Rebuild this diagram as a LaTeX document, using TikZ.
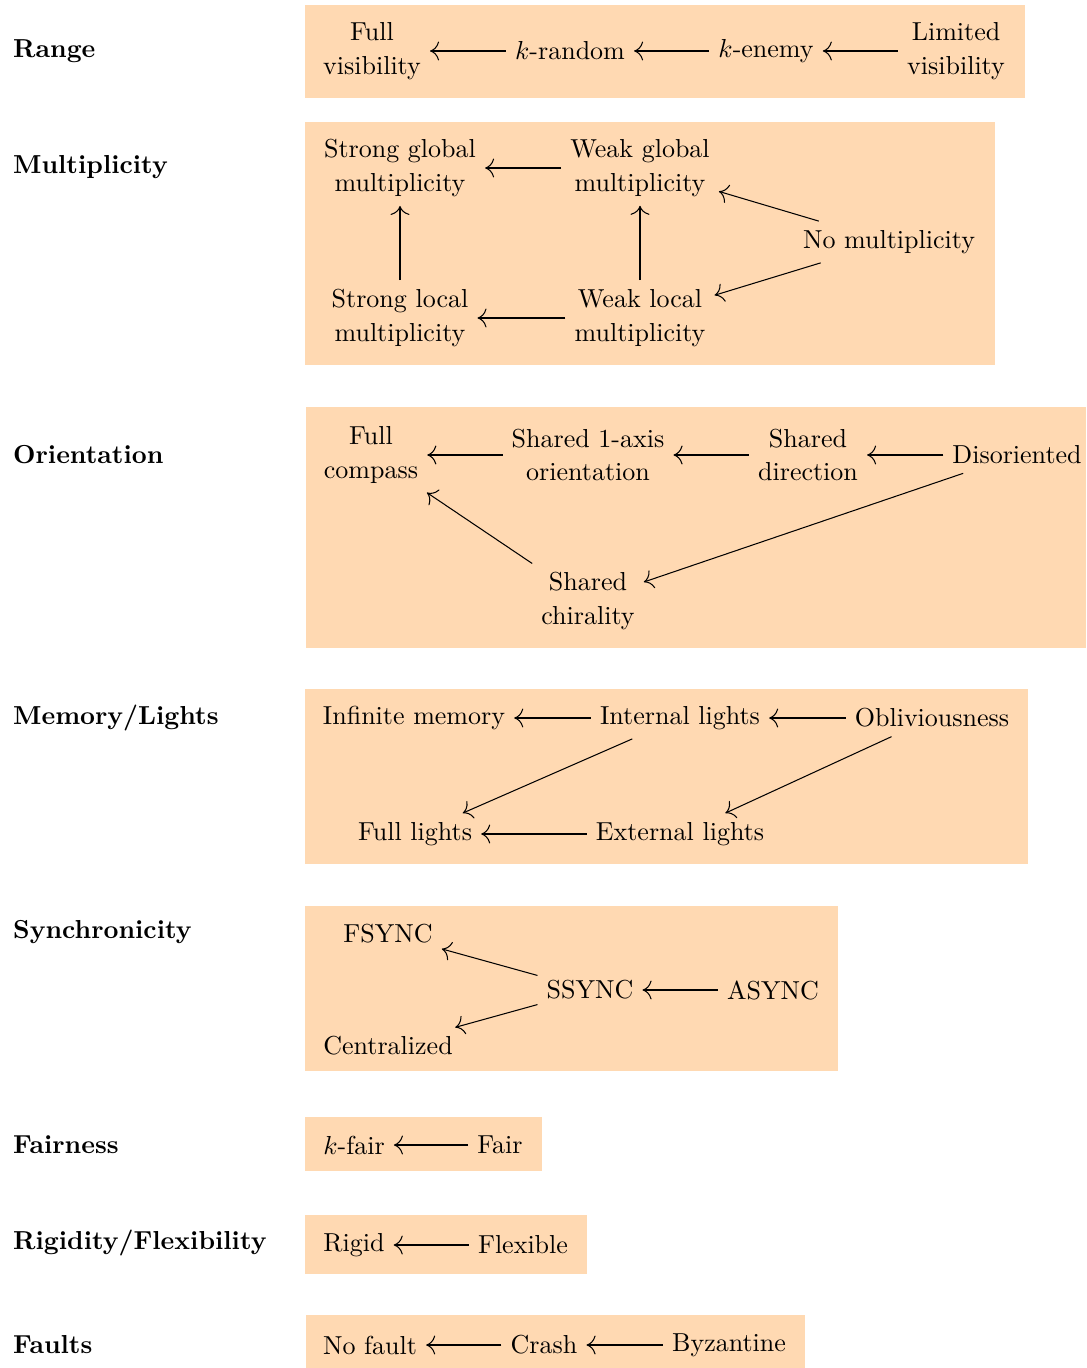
\documentclass[tikz,border=0pt]{standalone}
\usetikzlibrary{arrows.meta}

\begin{document}
\begin{tikzpicture}[x=0.3846pt,y=-0.3846pt,>={To[scale=1.4]},auto]
\tikzset{prop/.style = {align=center, font=\fontsize{10}{13}\selectfont}, cat/.style = {anchor=west,font=\bfseries}, panel/.style = {fill=orange!30}}
\useasboundingbox (0,0) rectangle (1086,1368);

%panels
\fill[panel] (305,5) rectangle (1025,98);
\fill[panel] (305,122) rectangle (995,365);
\fill[panel] (306,407) rectangle (1086,648);
\fill[panel] (305,689) rectangle (1028,864);
\fill[panel] (305,906) rectangle (838,1071);
\fill[panel] (305,1117) rectangle (542,1171);
\fill[panel] (305,1215) rectangle (587,1274);
\fill[panel] (306,1315) rectangle (805,1368);

%categories
\node[cat] (range) at (4,51) {Range};
\node[cat] (mult) at (4,167) {Multiplicity};
\node[cat] (orient) at (4,455) {Orientation};
\node[cat] (memory) at (4,718) {Memory/Lights};
\node[cat] (sync) at (4,932) {Synchronicity};
\node[cat] (fair) at (4,1145) {Fairness};
\node[cat] (rigid) at (4,1243) {Rigidity/Flexibility};
\node[cat] (faults) at (4,1345) {Faults};

%range
\node[prop] (fullvis) at (372,51) {Full\\visibility};
\node[prop] (krand) at (570,51) {$k$-random};
\node[prop] (kenemy) at (766,51) {$k$-enemy};
\node[prop] (limvis) at (956,51) {Limited\\visibility};

%multiplicity
\node[prop] (sglob) at (400,168) {Strong global\\multiplicity};
\node[prop] (wglob) at (640,168) {Weak global\\multiplicity};
\node[prop] (nomult) at (889,242) {No multiplicity};
\node[prop] (sloc) at (400,318) {Strong local\\multiplicity};
\node[prop] (wloc) at (640,318) {Weak local\\multiplicity};

%orientation
\node[prop] (compass) at (371,455) {Full\\compass};
\node[prop] (axis) at (588,455) {Shared 1-axis\\orientation};
\node[prop] (direc) at (808,455) {Shared\\direction};
\node[prop] (disor) at (1017,455) {Disoriented};
\node[prop] (chiral) at (588,601) {Shared\\chirality};

%memory / lights
\node[prop] (infmem) at (414,718) {Infinite memory};
\node[prop] (intlight) at (680,718) {Internal lights};
\node[prop] (obliv) at (932,718) {Obliviousness};
\node[prop] (fulllight) at (415,834) {Full lights};
\node[prop] (extlight) at (680,834) {External lights};

%synchronicity
\node[prop] (fsync) at (388,934) {FSYNC};
\node[prop] (ssync) at (590,990) {SSYNC};
\node[prop] (async) at (773,990) {ASYNC};
\node[prop] (central) at (388,1046) {Centralized};

%fairness
\node[prop] (kfair) at (354,1145) {$k$-fair};
\node[prop] (isfair) at (500,1145) {Fair};

%rigidity
\node[prop] (rig) at (354,1245) {Rigid};
\node[prop] (flex) at (523,1245) {Flexible};

%faults
\node[prop] (nofault) at (370,1345) {No fault};
\node[prop] (crash) at (544,1345) {Crash};
\node[prop] (byz) at (729,1345) {Byzantine};

%transitions
\path[->] (krand) edge (fullvis);
\path[->] (kenemy) edge (krand);
\path[->] (limvis) edge (kenemy);

\path[->] (wglob) edge (sglob);
\path[->] (sloc) edge (sglob);
\path[->] (wloc) edge (wglob);
\path[->] (wloc) edge (sloc);
\path[->] (nomult) edge (wglob);
\path[->] (nomult) edge (wloc);

\path[->] (axis) edge (compass);
\path[->] (direc) edge (axis);
\path[->] (disor) edge (direc);
\path[->] (chiral) edge (compass);
\path[->] (disor) edge (chiral);

\path[->] (intlight) edge (infmem);
\path[->] (obliv) edge (intlight);
\path[->] (intlight) edge (fulllight);
\path[->] (obliv) edge (extlight);
\path[->] (extlight) edge (fulllight);

\path[->] (ssync) edge (fsync);
\path[->] (ssync) edge (central);
\path[->] (async) edge (ssync);

\path[->] (isfair) edge (kfair);
\path[->] (flex) edge (rig);
\path[->] (crash) edge (nofault);
\path[->] (byz) edge (crash);

\end{tikzpicture}
\end{document}
